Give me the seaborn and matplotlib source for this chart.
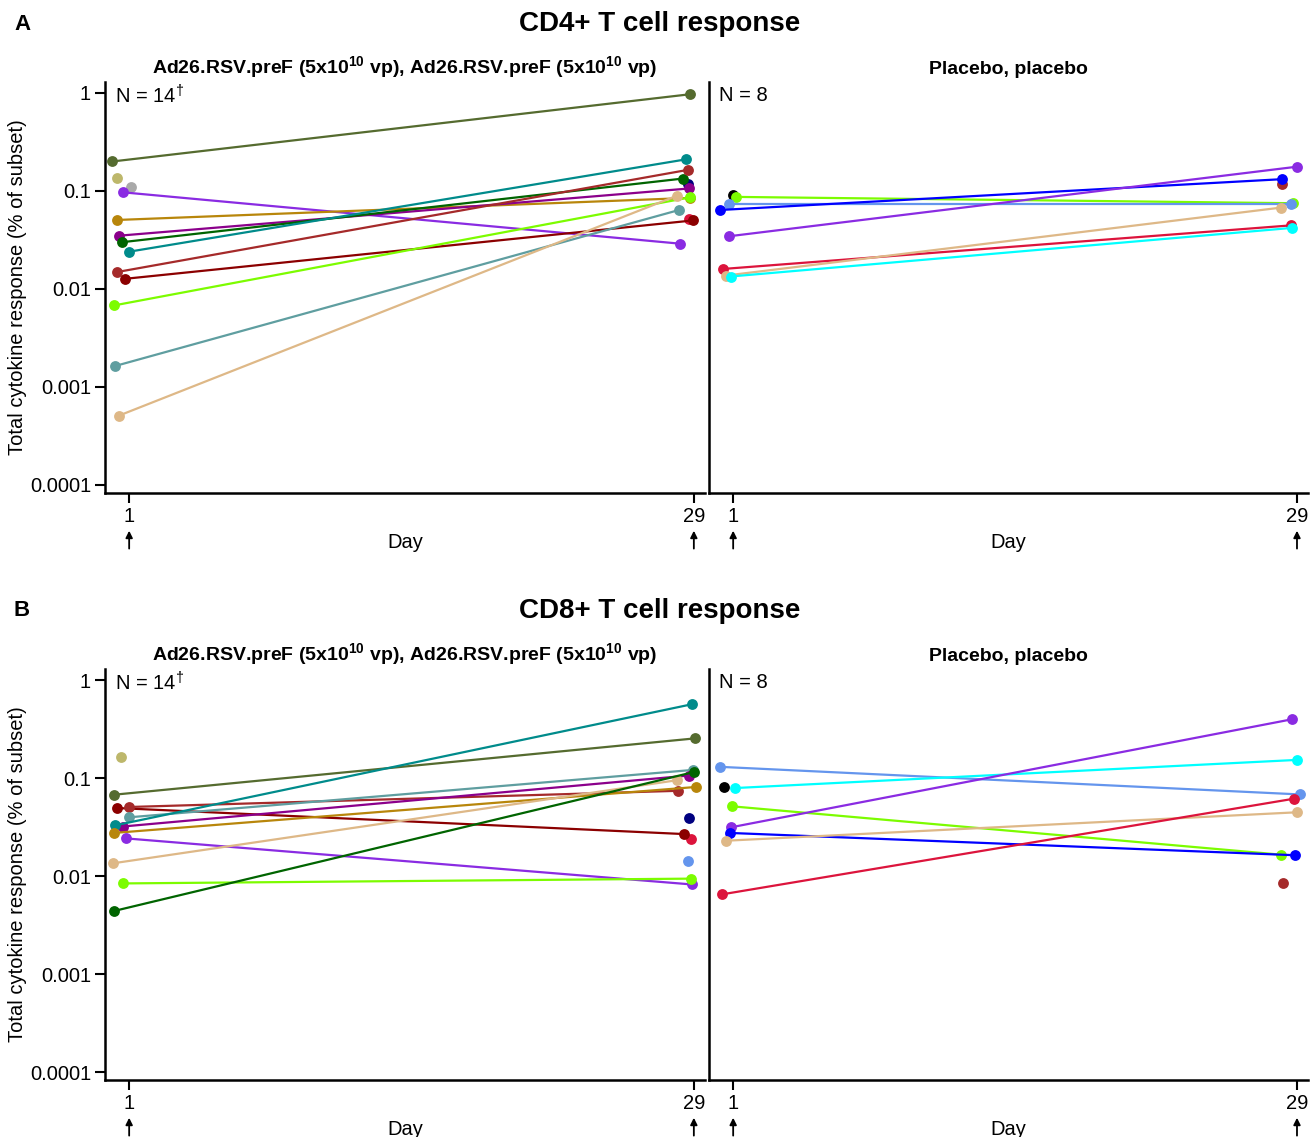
import numpy as np
import pandas as pd
import seaborn as sns
from matplotlib import pyplot as plt
from matplotlib.ticker import FixedLocator, NullLocator

sns.set_style('ticks')
plt.rcParams['font.family'] = ['Liberation Sans', 'DejaVu Sans']
plt.rcParams['mathtext.fontset'] = 'custom'
plt.rcParams['mathtext.rm'] = 'Liberation Sans'
plt.rcParams['mathtext.bf'] = 'Liberation Sans:bold'
for k in ['text.color', 'axes.labelcolor', 'xtick.color', 'ytick.color', 'axes.edgecolor']:
    plt.rcParams[k] = 'black'

nan = None
days = [1, 29]
y_ticks = [0.0001, 0.001, 0.01, 0.1, 1]
y_tick_labels = ['0.0001', '0.001', '0.01', '0.1', '1']

vac_title = 'Ad26.RSV.preF (5x10$^{\\mathbf{10}}$ vp), Ad26.RSV.preF (5x10$^{\\mathbf{10}}$ vp)'
pla_title = 'Placebo, placebo'

# CD4+, vaccine arm
cd4_vac_colors = ['navy', 'crimson', 'darkolivegreen', 'darkkhaki', 'darkgray', 'blueviolet', 'darkgoldenrod',
                  'darkmagenta', 'darkgreen', 'darkcyan', 'brown', 'darkred', 'lawngreen', 'cadetblue', 'burlywood']
cd4_vac_day1 = [nan, nan, 0.20, 0.135, 0.109, 0.097, 0.0506, 0.035, 0.030, 0.024, 0.0149, 0.0127, 0.0068, 0.00164, 0.00051]
cd4_vac_day29 = [0.118, 0.052, 0.97, nan, nan, 0.029, 0.085, 0.106, 0.134, 0.21, 0.164, 0.050, 0.086, 0.064, 0.0896]
cd4_vac_jit1 = [0, 0, -0.83, -0.58, 0.1, -0.33, -0.59, -0.48, -0.36, -0.01, -0.59, -0.2, -0.74, -0.68, -0.51]
cd4_vac_jit29 = [-0.28, -0.25, -0.2, 0, 0, -0.69, -0.2, -0.25, -0.53, -0.4, -0.31, -0.06, -0.2, -0.73, -0.83]

# CD4+, placebo arm
cd4_pla_colors = ['black', 'brown', 'lawngreen', 'cornflowerblue', 'blue', 'blueviolet', 'crimson', 'burlywood', 'cyan']
cd4_pla_day1 = [0.092, nan, 0.087, 0.0736, 0.064, 0.0345, 0.016, 0.0137, 0.0134]
cd4_pla_day29 = [nan, 0.118, 0.075, 0.0736, 0.132, 0.177, 0.0446, 0.0676, 0.042]
cd4_pla_jit1 = [0.0, 0, 0.13, -0.2, -0.63, -0.21, -0.51, -0.36, -0.13]
cd4_pla_jit29 = [0, -0.73, -0.18, -0.31, -0.73, 0.01, -0.28, -0.81, -0.25]

# CD8+, vaccine arm
cd8_vac_colors = ['navy', 'crimson', 'cornflowerblue', 'darkkhaki', 'darkolivegreen', 'darkred', 'brown', 'cadetblue',
                  'darkmagenta', 'darkcyan', 'darkgoldenrod', 'blueviolet', 'burlywood', 'lawngreen', 'darkgreen']
cd8_vac_day1 = [nan, nan, nan, 0.163, 0.0676, 0.0494, 0.0506, 0.0397, 0.032, 0.0329, 0.0275, 0.0242, 0.0135, 0.0084, 0.0044]
cd8_vac_day29 = [0.039, 0.0239, 0.0141, nan, 0.254, 0.0268, 0.074, 0.121, 0.106, 0.565, 0.081, 0.0082, 0.095, 0.0094, 0.115]
cd8_vac_jit1 = [0, 0, 0, -0.41, -0.73, -0.58, -0.01, -0.01, -0.31, -0.68, -0.76, -0.16, -0.78, -0.33, -0.74]
cd8_vac_jit29 = [-0.26, -0.15, -0.31, 0, 0.08, -0.5, -0.81, -0.03, -0.25, -0.11, 0.1, -0.1, -0.83, -0.16, 0.0]

# CD8+, placebo arm
cd8_pla_colors = ['brown', 'cornflowerblue', 'black', 'cyan', 'lawngreen', 'blueviolet', 'blue', 'burlywood', 'crimson']
cd8_pla_day1 = [nan, 0.130, 0.0815, 0.079, 0.0514, 0.0314, 0.0275, 0.0229, 0.0065]
cd8_pla_day29 = [0.0084, 0.068, nan, 0.153, 0.0165, 0.397, 0.0163, 0.0447, 0.0615]
cd8_pla_jit1 = [0, -0.65, -0.46, 0.1, -0.05, -0.11, -0.15, -0.38, -0.55]
cd8_pla_jit29 = [-0.68, 0.13, 0, -0.01, -0.78, -0.26, -0.1, 0.01, -0.15]


def draw_panel(ax, colors, v1, v29, j1, j29, prefix, n_text, title, left=True):
    rows = []
    for i in range(len(colors)):
        for d, v, j in ((days[0], v1[i], j1[i]), (days[1], v29[i], j29[i])):
            if v is not None:
                rows.append({'subject': prefix + str(i), 'day': d + j, 'value': v})
    df = pd.DataFrame(rows)
    palette = {prefix + str(i): c for i, c in enumerate(colors)}
    ax.set_yscale('log')
    sns.lineplot(data=df, x='day', y='value', hue='subject', units='subject', estimator=None,
                 palette=palette, hue_order=list(palette), marker='o', markersize=7.8,
                 markeredgewidth=0, linewidth=1.6, legend=False, ax=ax)
    ax.set_xlim(-0.2, 29.55)
    ax.set_ylim(8.28e-5, 1.295)
    ax.set_xticks(days)
    ax.set_xticklabels([str(d) for d in days])
    ax.yaxis.set_major_locator(FixedLocator(y_ticks))
    ax.yaxis.set_minor_locator(NullLocator())
    ax.set_yticklabels(y_tick_labels)
    sns.despine(ax=ax)
    for s in ['left', 'bottom']:
        ax.spines[s].set_linewidth(1.8)
    ax.tick_params(width=1.5, length=7, labelsize=14.5, pad=3)
    ax.set_xlabel('Day', fontsize=14.5, labelpad=5)
    if left:
        ax.set_ylabel('Total cytokine response (% of subset)', fontsize=14.5, labelpad=2)
    else:
        ax.set_ylabel('')
        ax.tick_params(axis='y', left=False, labelleft=False)
    ax.set_title(title, fontsize=14, fontweight='bold', pad=6)
    ax.text(0.017, 0.966, n_text, transform=ax.transAxes, fontsize=14.5, va='center')
    for d in days:
        ax.annotate('', xy=(d, -0.085), xytext=(d, -0.142), xycoords=('data', 'axes fraction'),
                    textcoords=('data', 'axes fraction'),
                    arrowprops=dict(arrowstyle='-|>', color='black', lw=1.3, mutation_scale=10),
                    annotation_clip=False)


fig = plt.figure(figsize=(13.12, 11.37), dpi=100)
ax_a1 = fig.add_axes([0.0800, 0.5664, 0.4573, 0.3615])
ax_a2 = fig.add_axes([0.5404, 0.5664, 0.4566, 0.3615])
ax_b1 = fig.add_axes([0.0800, 0.0501, 0.4573, 0.3615])
ax_b2 = fig.add_axes([0.5404, 0.0501, 0.4566, 0.3615])

draw_panel(ax_a1, cd4_vac_colors, cd4_vac_day1, cd4_vac_day29, cd4_vac_jit1, cd4_vac_jit29,
           'a', 'N = 14$^{\\dagger}$', vac_title)
draw_panel(ax_a2, cd4_pla_colors, cd4_pla_day1, cd4_pla_day29, cd4_pla_jit1, cd4_pla_jit29,
           'b', 'N = 8', pla_title, left=False)
draw_panel(ax_b1, cd8_vac_colors, cd8_vac_day1, cd8_vac_day29, cd8_vac_jit1, cd8_vac_jit29,
           'c', 'N = 14$^{\\dagger}$', vac_title)
draw_panel(ax_b2, cd8_pla_colors, cd8_pla_day1, cd8_pla_day29, cd8_pla_jit1, cd8_pla_jit29,
           'd', 'N = 8', pla_title, left=False)

fig.text(0.503, 1 - 24 / 1137, 'CD4+ T cell response', ha='center', va='center', fontsize=20, fontweight='bold')
fig.text(0.503, 1 - 611 / 1137, 'CD8+ T cell response', ha='center', va='center', fontsize=20, fontweight='bold')
fig.text(0.0168, 1 - 24 / 1137, 'A', ha='center', va='center', fontsize=16, fontweight='bold')
fig.text(0.0168, 1 - 611 / 1137, 'B', ha='center', va='center', fontsize=16, fontweight='bold')

fig.savefig('out.png', dpi=100)
